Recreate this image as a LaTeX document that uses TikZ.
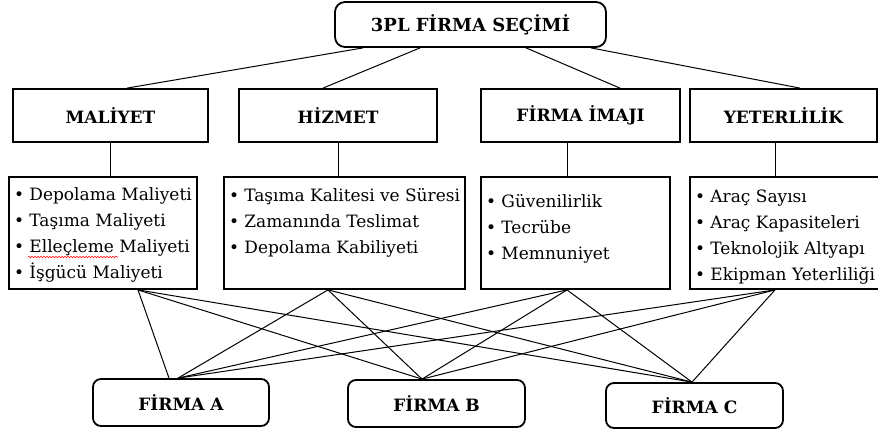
\documentclass[tikz,border=0pt]{standalone}
\usepackage{fontspec}
\setmainfont{DejaVu Serif}
\usepackage{tikz}
\usetikzlibrary{decorations.pathmorphing}

\newcommand{\maddeler}[3]{\parbox[c][112pt][t]{#1}{\vspace*{#2}#3}}

\begin{document}
\begin{tikzpicture}[x=1pt, y=-1pt, baslik/.style={
		% The shape:
		rectangle, inner sep=0pt,
		% The border
		line width=1.8pt, draw=black,
		% The text
		font=\bfseries\fontsize{17}{19}\selectfont},
	yuvarlak/.style={baslik, rounded corners=8pt},
	liste/.style={baslik, inner xsep=5pt, font=\fontsize{17}{26}\selectfont},
	bag/.style={line width=1pt}]
    \useasboundingbox (0,0) rectangle (878,432);

    % secim
    \node [yuvarlak, rounded corners=10pt, minimum width=271pt, minimum height=45pt,
      font=\bfseries\fontsize{18}{20}\selectfont] (secim) at (470.5,24.5) {3PL FİRMA SEÇİMİ};

    % kriterler
    \node [baslik, minimum width=195pt, minimum height=53pt] (maliyet) at (110.5,115.5) {MALİYET};
    \node [baslik, minimum width=198pt, minimum height=53pt] (hizmet) at (338,115.5) {HİZMET};
    \node [baslik, minimum width=199pt, minimum height=53pt] (imaj) at (580.5,115.5) {FİRMA İMAJI};
    \node [baslik, minimum width=187pt, minimum height=53pt] (yeter) at (783.5,115.5) {YETERLİLİK};

    % alt kriterler
    \node [liste, minimum width=188pt, minimum height=112pt] (mliste) at (103,233)
      {\maddeler{178pt}{11pt}{\textbullet\ Depolama Maliyeti\\ \textbullet\ Taşıma Maliyeti\\
        \textbullet\ Elleçleme Maliyeti\\ \textbullet\ İşgücü Maliyeti}};
    \node [liste, minimum width=241pt, minimum height=112pt] (hliste) at (344.5,233)
      {\maddeler{231pt}{11pt}{\textbullet\ Taşıma Kalitesi ve Süresi\\ \textbullet\ Zamanında Teslimat\\
        \textbullet\ Depolama Kabiliyeti}};
    \node [liste, minimum width=189pt, minimum height=112pt] (iliste) at (575.5,233)
      {\maddeler{179pt}{17pt}{\textbullet\ Güvenilirlik\\ \textbullet\ Tecrübe\\
        \textbullet\ Memnuniyet}};
    \node [liste, minimum width=202pt, minimum height=112pt] (yliste) at (791,233)
      {\maddeler{192pt}{13pt}{\textbullet\ Araç Sayısı\\ \textbullet\ Araç Kapasiteleri\\
        \textbullet\ Teknolojik Altyapı\\ \textbullet\ Ekipman Yeterliliği}};

    % firmalar
    \node [yuvarlak, minimum width=176pt, minimum height=47pt] (firmaA) at (181,402.5) {FİRMA A};
    \node [yuvarlak, minimum width=177pt, minimum height=47pt] (firmaB) at (436.5,403.5) {FİRMA B};
    \node [yuvarlak, minimum width=177pt, minimum height=45pt] (firmaC) at (694.5,405.5) {FİRMA C};

    \coordinate (mb) at ([xshift=35pt]mliste.south);
    \coordinate (hb) at ([xshift=-16.5pt]hliste.south);
    \coordinate (ib) at ([xshift=-8.5pt]iliste.south);
    \coordinate (yb) at ([xshift=-16pt]yliste.south);
    \coordinate (ta) at ([xshift=-3pt]firmaA.north);
    \coordinate (tb) at ([xshift=-14.5pt]firmaB.north);
    \coordinate (tc) at ([xshift=-2.5pt]firmaC.north);

    \draw [bag] ([xshift=-107.5pt]secim.south) -- ([xshift=16.5pt]maliyet.north);
    \draw [bag] ([xshift=-50.5pt]secim.south) -- ([xshift=-15pt]hizmet.north);
    \draw [bag] ([xshift=55.5pt]secim.south) -- ([xshift=39.5pt]imaj.north);
    \draw [bag] ([xshift=120.5pt]secim.south) -- ([xshift=16.5pt]yeter.north);

    \draw [bag] (maliyet.south) -- (mliste.north -| maliyet.south);
    \draw [bag] (hizmet.south) -- (hliste.north -| hizmet.south);
    \draw [bag] (imaj.south -| ib) -- (iliste.north -| ib);
    \draw [bag] (yeter.south -| yb) -- (yliste.north -| yb);

    \foreach \liste in {hb,ib,yb}{
      \foreach \firma in {ta,tb,tc}{
        \draw [bag] (\liste) -- (\firma);
      }
    }
    \draw [bag] (mb) -- ([xshift=-12pt]firmaA.north);
    \draw [bag] (mb) -- (tb);
    \draw [bag] (mb) -- (tc);

    % imla cizgisi
    \draw [red, line width=0.6pt, decorate, decoration={snake, segment length=3pt, amplitude=0.7pt}]
      ([shift={(20,24)}]mliste.west) -- ([shift={(110,24)}]mliste.west);
\end{tikzpicture}
\end{document}
